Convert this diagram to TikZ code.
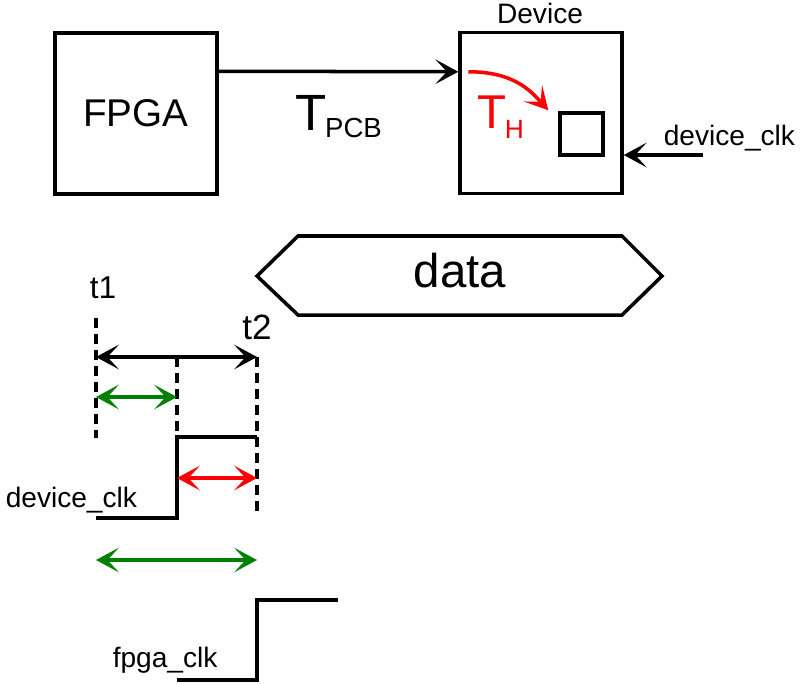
\documentclass[tikz,border=0pt]{standalone}
\usepackage{fontspec}
\setmainfont{Liberation Sans}
\usetikzlibrary{arrows.meta,positioning,calc}
\definecolor{holdred}{RGB}{255,0,0}
\definecolor{skewgreen}{RGB}{0,128,0}
\newcommand{\fsz}[1]{\fontsize{#1}{#1}\selectfont}

\begin{document}
\begin{tikzpicture}[
    x=0.02cm, y=-0.02cm,
    line width=2pt,
    onehead/.style={-{Stealth[length=13pt,width=14pt,inset=6.5pt]}},
    twohead/.style={{Stealth[length=13pt,width=14pt,inset=6.5pt]}-{Stealth[length=13pt,width=14pt,inset=6.5pt]}},
    blockbox/.style={draw,minimum width=3.24cm,minimum height=3.22cm,inner sep=0pt},
    lbl/.style={anchor=base,inner sep=0pt},
    guide/.style={dash pattern=on 5.7pt off 3.4pt},
]
\useasboundingbox (0,0) rectangle (800,683);

% FPGA and device
\node[blockbox,font=\fsz{22}] (fpga) at (136,113.5) {FPGA};
\node[blockbox] (dev) at (541,113) {};
\node[lbl,font=\fsz{16}] (devlbl) at (540,23) {Device};
\node[draw,minimum width=0.86cm,minimum height=0.84cm,inner sep=0pt] (reg) at (581.5,134) {};

% Board trace
\draw[onehead] ($(fpga.north east)+(0,40)$) -- ($(dev.north west)+(0,41)$);
\node[lbl,anchor=base west] (tpcb) at (294,130) {{\fsz{29}T}\kern-1pt\raisebox{-4pt}{\fsz{15.7}PCB}};

% Hold time inside device
\coordinate (hstart) at ($(dev.north west)+(10,41)$);
\coordinate (hend) at ($(reg.north west)+(-10,-1)$);
\draw[holdred,onehead] (hstart) .. controls ($(hstart)+(45,0)$) and ($(hend)+(-18,-20)$) .. (hend);
\node[lbl,anchor=base west,text=holdred] (th) at (476,128) {{\fsz{27}T}\kern-1pt\raisebox{-5.7pt}{\fsz{15}H}};

% Device clock input
\coordinate (clkin) at (703,155);
\draw[onehead] (clkin) -- (clkin -| dev.east);
\node[lbl,anchor=base west,font=\fsz{16}] (clklbl) at (662,145) {device\_clk};

% Data window
\draw (257,276) -- (298,236) -- (622,236) -- (662,276) -- (622,315) -- (298,315) -- cycle;
\node[lbl,font=\fsz{27}] (data) at (460,287) {data};

% Time marks
\node[lbl,font=\fsz{18}] (t1) at (103,298) {t1};
\node[lbl,font=\fsz{20}] (t2) at (257,339) {t2};
\coordinate (t1top) at (96,318);
\coordinate (t1bot) at (96,438);
\coordinate (mtop) at (177,357);
\coordinate (t2top) at (257,357);
\coordinate (t2bot) at (257,512);
\draw[guide] (t1top) -- (t1bot);
\draw[guide] (mtop) -- (177,437);
\draw[guide] (t2top) -- (t2bot);
\draw[twohead] (t1top |- mtop) -- (t2top);
\draw[skewgreen,twohead] (96,397) -- (177,397);

% device_clk waveform
\coordinate (dlow) at (96,518);
\coordinate (dedge) at (177,518);
\coordinate (dhigh) at (257,437);
\draw (dlow) -- (dedge) -- (dedge |- dhigh) -- (dhigh);
\draw[holdred,twohead] (177,478) -- (257,478);
\node[lbl,anchor=base west,font=\fsz{16}] (dclk) at (4,507) {device\_clk};

% fpga_clk waveform
\draw[skewgreen,twohead] (96,560) -- (257,560);
\coordinate (flow) at (177,680);
\coordinate (fedge) at (257,680);
\coordinate (fhigh) at (338,600);
\draw (flow) -- (fedge) -- (fedge |- fhigh) -- (fhigh);
\node[lbl,anchor=base west,font=\fsz{16}] (fclk) at (111,667) {fpga\_clk};

\end{tikzpicture}
\end{document}
